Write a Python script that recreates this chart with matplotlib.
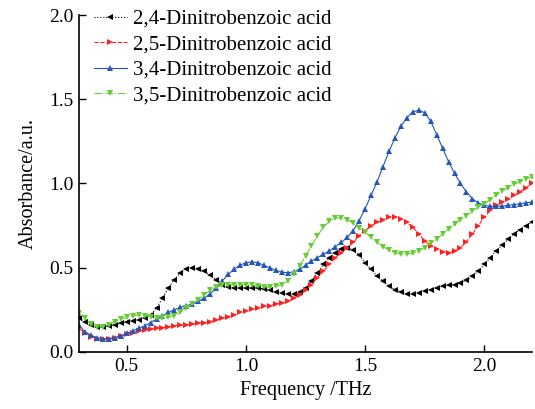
import numpy as np
import matplotlib
matplotlib.use("Agg")
import matplotlib.pyplot as plt

plt.rcParams['font.family'] = ['Liberation Serif', 'DejaVu Serif']
plt.rcParams['mathtext.fontset'] = 'stix'

freq = np.round(np.arange(0.30, 2.2001, 0.025), 3)

acid_24 = [0.20, 0.18, 0.16, 0.15, 0.15, 0.155, 0.16, 0.17, 0.18, 0.185,
           0.19, 0.20, 0.22, 0.26, 0.32, 0.38, 0.43, 0.47, 0.495, 0.50,
           0.495, 0.48, 0.455, 0.43, 0.40, 0.385, 0.38, 0.38, 0.38, 0.38,
           0.38, 0.375, 0.365, 0.355, 0.35, 0.345, 0.345, 0.355, 0.38, 0.42,
           0.47, 0.52, 0.56, 0.59, 0.61, 0.62, 0.605, 0.575, 0.53, 0.49,
           0.45, 0.42, 0.39, 0.37, 0.355, 0.345, 0.345, 0.35, 0.36, 0.37,
           0.38, 0.39, 0.395, 0.40, 0.41, 0.425, 0.45, 0.48, 0.52, 0.56,
           0.60, 0.635, 0.67, 0.70, 0.725, 0.75, 0.77]

acid_25 = [0.14, 0.11, 0.09, 0.075, 0.075, 0.08, 0.085, 0.095, 0.105, 0.115,
           0.125, 0.13, 0.135, 0.14, 0.145, 0.15, 0.155, 0.16, 0.16, 0.165,
           0.17, 0.175, 0.18, 0.19, 0.20, 0.21, 0.22, 0.235, 0.245, 0.255,
           0.26, 0.27, 0.275, 0.285, 0.29, 0.30, 0.32, 0.34, 0.37, 0.40,
           0.44, 0.48, 0.52, 0.56, 0.59, 0.62, 0.65, 0.69, 0.72, 0.75,
           0.77, 0.785, 0.80, 0.80, 0.79, 0.77, 0.74, 0.70, 0.66, 0.63,
           0.61, 0.595, 0.59, 0.60, 0.62, 0.655, 0.70, 0.75, 0.80, 0.84,
           0.87, 0.89, 0.91, 0.93, 0.95, 0.975, 1.00]

acid_34 = [0.16, 0.12, 0.10, 0.085, 0.08, 0.08, 0.085, 0.095, 0.11, 0.125,
           0.14, 0.155, 0.175, 0.195, 0.215, 0.235, 0.25, 0.265, 0.275, 0.285,
           0.30, 0.32, 0.345, 0.38, 0.42, 0.46, 0.49, 0.515, 0.53, 0.535,
           0.53, 0.515, 0.50, 0.485, 0.475, 0.47, 0.475, 0.49, 0.515, 0.54,
           0.56, 0.58, 0.60, 0.625, 0.65, 0.68, 0.72, 0.78, 0.85, 0.93,
           1.01, 1.10, 1.19, 1.27, 1.34, 1.39, 1.425, 1.435, 1.42, 1.37,
           1.29, 1.21, 1.13, 1.06, 1.00, 0.95, 0.91, 0.885, 0.87, 0.865,
           0.865, 0.865, 0.87, 0.875, 0.88, 0.885, 0.89]

acid_35 = [0.23, 0.20, 0.165, 0.15, 0.15, 0.16, 0.18, 0.195, 0.205, 0.215,
           0.22, 0.215, 0.21, 0.20, 0.20, 0.205, 0.215, 0.235, 0.26, 0.285,
           0.31, 0.34, 0.365, 0.385, 0.395, 0.40, 0.40, 0.40, 0.40, 0.395,
           0.39, 0.385, 0.385, 0.39, 0.40, 0.42, 0.46, 0.51, 0.57, 0.63,
           0.69, 0.74, 0.775, 0.795, 0.795, 0.785, 0.765, 0.735, 0.71, 0.68,
           0.65, 0.625, 0.605, 0.59, 0.58, 0.58, 0.585, 0.60, 0.62, 0.645,
           0.67, 0.70, 0.73, 0.76, 0.785, 0.81, 0.835, 0.86, 0.88, 0.905,
           0.93, 0.955, 0.975, 0.995, 1.01, 1.025, 1.04]

series = [
    (acid_24, '2,4-Dinitrobenzoic acid', 'black', ':', '<'),
    (acid_25, '2,5-Dinitrobenzoic acid', '#ff2020', '--', '>'),
    (acid_34, '3,4-Dinitrobenzoic acid', '#2457b8', '-', '^'),
    (acid_35, '3,5-Dinitrobenzoic acid', '#66cc33', '-.', 'v'),
]

fig = plt.figure(figsize=(5.35, 4.09), dpi=100)
ax = fig.add_axes([0.1477, 0.1394, 0.8467, 0.8239])

for y, label, color, ls, mk in series:
    ax.plot(freq, y, linestyle=ls, color=color, linewidth=0.8, marker=mk,
            markersize=4.5, markeredgewidth=0, label=label)

ax.set_xlim(0.3, 2.2)
ax.set_ylim(0.0, 2.0)
ax.set_xticks([0.5, 1.0, 1.5, 2.0])
ax.set_yticks([0.0, 0.5, 1.0, 1.5, 2.0])
ax.xaxis.set_major_formatter(matplotlib.ticker.FormatStrFormatter('%.1f'))
ax.yaxis.set_major_formatter(matplotlib.ticker.FormatStrFormatter('%.1f'))
ax.tick_params(direction='in', length=5, width=1, labelsize=14, pad=4)
ax.spines['top'].set_visible(False)
ax.spines['right'].set_visible(False)
ax.spines['left'].set_linewidth(1.2)
ax.spines['bottom'].set_linewidth(1.2)

ax.set_xlabel('Frequency /THz', fontsize=14.5, labelpad=5)
ax.set_ylabel('Absorbance/a.u.', fontsize=14.5, labelpad=8)

leg = ax.legend(loc='upper left', bbox_to_anchor=(0.0, 1.06), frameon=False,
                fontsize=15, handlelength=1.6, handletextpad=0.3,
                labelspacing=0.28, borderaxespad=0.3, markerscale=0.9)

fig.savefig("out.png", dpi=100)
